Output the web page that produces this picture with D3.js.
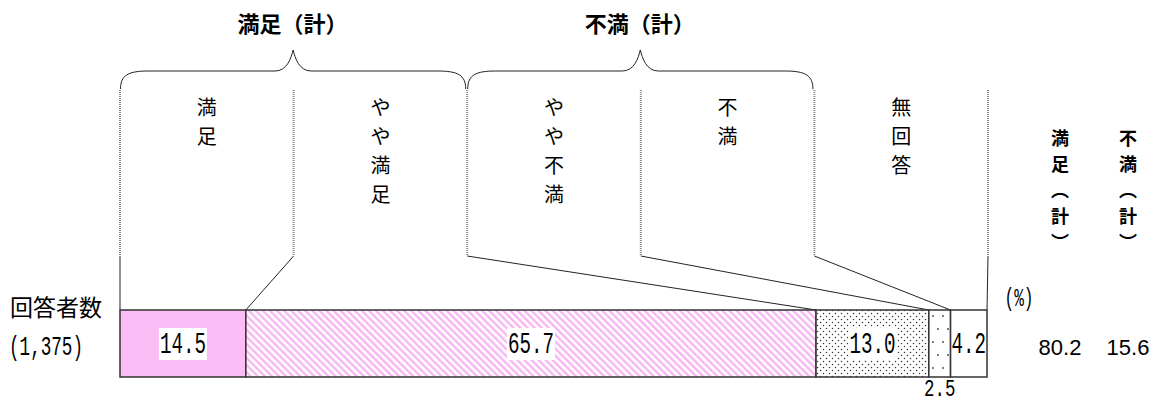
<!DOCTYPE html>
<html>
<head>
<meta charset="utf-8">
<script src="https://cdn.jsdelivr.net/npm/d3@7"></script>
<style>
  body { margin: 0; background: #fff; }
  svg { display: block; }
</style>
</head>
<body>
<svg id="chart" width="1159" height="404"></svg>
<script>
// 回答データ
var categories = ['満足', 'やや満足', 'やや不満', '不満', '無回答']
var values = [14.5, 65.7, 13.0, 2.5, 4.2]
var groupLabels = ['満足（計）', '不満（計）']
var groupSpans = [[0, 2], [2, 4]]
var totals = [80.2, 15.6]
var rowLabel = '回答者数'
var rowCount = '(1,375)'

var svg = d3.select('#chart')
var jp = '"Noto Sans CJK JP", "Noto Sans", sans-serif'
var mono = '"Liberation Mono", "DejaVu Sans Mono", monospace'

var barTop = 310, barBottom = 377
var colTop = 90, colBottom = 256

var x = d3.scaleLinear().domain([0, d3.sum(values)]).range([120, 987])
var col = d3.scaleBand().domain(categories).range([120, 988])

var cum = [0]
values.forEach(function(v, i) { cum.push(cum[i] + v) })

// patterns
var defs = svg.append('defs')
var hatch = defs.append('pattern').attr('id', 'hatch')
    .attr('patternUnits', 'userSpaceOnUse').attr('width', 5).attr('height', 5)
    .attr('patternTransform', 'rotate(-45)')
hatch.append('rect').attr('width', 5).attr('height', 5).attr('fill', '#fff')
hatch.append('rect').attr('width', 2.4).attr('height', 5).attr('fill', '#f9b5f3')

var dots = defs.append('pattern').attr('id', 'dots')
    .attr('patternUnits', 'userSpaceOnUse').attr('width', 6).attr('height', 6)
dots.append('rect').attr('width', 6).attr('height', 6).attr('fill', '#fff')
dots.append('circle').attr('cx', 1.5).attr('cy', 1.5).attr('r', 0.75).attr('fill', '#333')
dots.append('circle').attr('cx', 4.5).attr('cy', 4.5).attr('r', 0.75).attr('fill', '#333')

var sparse = defs.append('pattern').attr('id', 'sparse')
    .attr('patternUnits', 'userSpaceOnUse').attr('width', 10).attr('height', 26)
sparse.append('rect').attr('width', 10).attr('height', 26).attr('fill', '#fff')
sparse.append('circle').attr('cx', 3).attr('cy', 4).attr('r', 0.9).attr('fill', '#444')
sparse.append('circle').attr('cx', 8).attr('cy', 17).attr('r', 0.9).attr('fill', '#444')

var fills = ['#fcbdf6', 'url(#hatch)', 'url(#dots)', 'url(#sparse)', '#fff']

// braces
function brace(x0, x1, yTop, yLine, yEnd) {
    var m = (x0 + x1) / 2
    return 'M' + x0 + ',' + yEnd +
        'C' + x0 + ',' + (yLine + 4) + ' ' + (x0 + 8) + ',' + yLine + ' ' + (x0 + 28) + ',' + yLine +
        'L' + (m - 18) + ',' + yLine +
        'C' + (m - 6) + ',' + yLine + ' ' + (m - 2) + ',' + (yTop + 8) + ' ' + m + ',' + yTop +
        'C' + (m + 2) + ',' + (yTop + 8) + ' ' + (m + 6) + ',' + yLine + ' ' + (m + 18) + ',' + yLine +
        'L' + (x1 - 28) + ',' + yLine +
        'C' + (x1 - 8) + ',' + yLine + ' ' + x1 + ',' + (yLine + 4) + ' ' + x1 + ',' + yEnd
}

groupSpans.forEach(function(s, i) {
    var x0 = col(categories[s[0]])
    var x1 = col(categories[s[1] - 1]) + col.bandwidth()
    svg.append('path')
        .attr('d', brace(x0 + 0.5, x1 - 1.5, 50, 71, 89))
        .attr('fill', 'none').attr('stroke', '#222').attr('stroke-width', 1)
    svg.append('text')
        .attr('x', (x0 + x1) / 2 - 1).attr('y', 32)
        .attr('text-anchor', 'middle')
        .style('font-family', jp).style('font-size', '22px').style('font-weight', 'bold')
        .text(groupLabels[i])
})

// column divider lines (gray, dotted look)
var bounds = categories.map(function(c) { return col(c) })
bounds.push(col.range()[1])
svg.selectAll('.div').data(bounds).enter().append('line')
    .attr('x1', function(d) { return d }).attr('x2', function(d) { return d })
    .attr('y1', colTop).attr('y2', colBottom)
    .attr('stroke', '#888').attr('stroke-width', 2).attr('stroke-dasharray', '1,1')

// connectors from column bounds to bar bounds
svg.selectAll('.conn').data(bounds).enter().append('line')
    .attr('x1', function(d) { return d }).attr('y1', colBottom)
    .attr('x2', function(d, i) { return x(cum[i]) }).attr('y2', barTop)
    .attr('stroke', '#222').attr('stroke-width', 1)

// vertical category labels
categories.forEach(function(c) {
    var cx = col(c) + col.bandwidth() / 2
    c.split('').forEach(function(ch, j) {
        svg.append('text')
            .attr('x', cx).attr('y', 106 + j * 29)
            .attr('text-anchor', 'middle').attr('dominant-baseline', 'central')
            .style('font-family', jp).style('font-size', '20px')
            .text(ch)
    })
})

// bar segments
svg.selectAll('.seg').data(values).enter().append('rect')
    .attr('x', function(d, i) { return x(cum[i]) })
    .attr('y', barTop)
    .attr('width', function(d, i) { return x(cum[i + 1]) - x(cum[i]) })
    .attr('height', barBottom - barTop)
    .attr('fill', function(d, i) { return fills[i] })
    .attr('stroke', '#333').attr('stroke-width', 1.5)

// narrow gothic-like numbers
function narrow(xc, yb, txt, size, sx) {
    return svg.append('text')
        .attr('transform', 'translate(' + xc + ',' + yb + ') scale(' + sx + ',1)')
        .attr('text-anchor', 'middle')
        .style('font-family', mono).style('font-size', size + 'px')
        .text(txt)
}

values.forEach(function(v, i) {
    var xc = (x(cum[i]) + x(cum[i + 1])) / 2
    var txt = v.toFixed(1)
    if (v >= 4) {
        if (i < 3) {
            svg.append('rect')
                .attr('x', xc - 24).attr('y', 328).attr('width', 48).attr('height', 32)
                .attr('fill', '#fff')
        }
        narrow(xc, 353, txt, 30, 0.64)
    } else {
        narrow(xc, 396, txt, 23, 0.76)
    }
})

// left row labels
svg.append('text').attr('x', 10).attr('y', 316)
    .style('font-family', jp).style('font-size', '23px').text(rowLabel)
narrow(46, 355, rowCount, 28, 0.63)

// unit
narrow(1019, 306, '(%)', 26, 0.62)

// totals columns
var totX = [1060, 1128]
groupLabels.forEach(function(lbl, i) {
    var chars = lbl.replace('（', '︵').replace('）', '︶').split('')
    chars.forEach(function(ch, j) {
        svg.append('text')
            .attr('x', totX[i]).attr('y', 137 + j * 26)
            .attr('text-anchor', 'middle').attr('dominant-baseline', 'central')
            .style('font-family', jp).style('font-size', '18px').style('font-weight', 'bold')
            .text(ch)
    })
    svg.append('text')
        .attr('x', totX[i]).attr('y', 355)
        .attr('text-anchor', 'middle')
        .style('font-family', '"Liberation Sans", Arial, sans-serif').style('font-size', '22px')
        .text(totals[i].toFixed(1))
})
</script>
</body>
</html>
